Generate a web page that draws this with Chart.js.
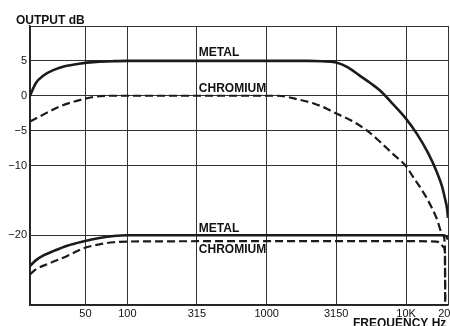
<!DOCTYPE html>
<html>
<head>
<meta charset="utf-8">
<script src="https://cdn.jsdelivr.net/npm/chart.js@4"></script>
<style>
  html, body { margin: 0; padding: 0; background: #fff; }
  #wrap { width: 450px; height: 326px; }
</style>
</head>
<body>
<div id="wrap"><canvas id="myChart"></canvas></div>
<script>
const ctx = document.getElementById('myChart');

// axis ticks
const freqTicks = [20, 50, 100, 315, 1000, 3150, 10000, 20000];
const freqTickLabels = ['', '50', '100', '315', '1000', '3150', '10K', '20K'];
const dbTicks = [-30, -20, -10, -5, 0, 5, 10];
const dbTickLabels = ['', '\u221220', '\u221210', '\u22125', '0', '5', ''];

// metal tape, high level
const metalHiFreq = [20, 22, 25, 30, 35, 45, 60, 80, 100, 1000, 2000, 2500, 3100, 3800, 4670, 5600, 6500, 8060, 9820, 12000, 14380, 16680, 18120, 19000, 19700, 20000];
const metalHiDb = [0, 1.8, 2.9, 3.75, 4.2, 4.6, 4.85, 4.96, 5, 5, 5, 4.95, 4.8, 4.1, 2.85, 1.75, 0.75, -1.2, -3.1, -5.5, -8.2, -11.0, -13.0, -14.7, -16.2, -17.5];

// chromium tape, high level
const chromHiFreq = [20, 25.5, 33.5, 44, 58, 76, 100, 1000, 1200, 1700, 2200, 2700, 3000, 4000, 5250, 6500, 8000, 10000, 11200, 12500, 14100, 16600, 18400, 19000, 19100];
const chromHiDb = [-3.7, -2.6, -1.45, -0.7, -0.15, 0, 0, 0, 0, -0.55, -1.15, -1.85, -2.35, -3.5, -5.0, -6.6, -8.3, -10.1, -11.6, -13.0, -14.7, -17.6, -20.0, -21.4, -31];

// metal tape, low level
const metalLoFreq = [20, 22, 25, 30, 37, 48, 63, 80, 100, 1000, 10000, 18500, 19500, 20000];
const metalLoDb = [-24.4, -23.6, -22.9, -22.2, -21.5, -20.9, -20.4, -20.1, -20, -20, -20, -20, -20.2, -20.6];

// chromium tape, low level
const chromLoFreq = [20, 22, 27.8, 36.7, 48, 63, 80, 100, 1000, 10000, 16600, 17800, 18600, 19000, 19100];
const chromLoDb = [-25.6, -24.9, -24.0, -23.0, -21.9, -21.3, -21.0, -20.9, -20.85, -20.85, -20.9, -21.2, -21.7, -22.4, -31];

// curve names written on the chart
const curveLabels = ['METAL', 'CHROMIUM', 'METAL', 'CHROMIUM'];
const curveLabelFreq = [315, 315, 315, 315];
const curveLabelDb = [5.7, 0.55, -19.5, -22.6];

function toPoints(freqs, dbs){
    return freqs.map((f, i) => ({x: f, y: dbs[i]}));
}

const lineColor = '#1b1b1b';
const fontFamily = '"Liberation Sans", Arial, Helvetica, sans-serif';

const textPlugin = {
    id: 'textLabels',
    afterDraw(chart){
        const c = chart.ctx;
        const xs = chart.scales.x;
        const ys = chart.scales.y;
        const area = chart.chartArea;
        c.save();
        c.fillStyle = '#111';
        c.font = 'bold 12px ' + fontFamily;
        c.textAlign = 'left';
        c.textBaseline = 'alphabetic';
        for(let i = 0; i < curveLabels.length; i++){
            c.fillText(curveLabels[i], xs.getPixelForValue(curveLabelFreq[i]) + 2, ys.getPixelForValue(curveLabelDb[i]));
        }
        c.fillText('OUTPUT dB', area.left - 14, area.top - 2);
        c.fillText('FREQUENCY Hz', area.right - 95, area.bottom + 22);
        c.restore();
    }
};

var dataChart = new Chart(ctx, {
    type: 'line',
    data: {
        datasets: [
            {data: toPoints(metalHiFreq, metalHiDb), borderColor: lineColor, borderWidth: 2.6},
            {data: toPoints(chromHiFreq, chromHiDb), borderColor: lineColor, borderWidth: 2.2, borderDash: [8, 4]},
            {data: toPoints(metalLoFreq, metalLoDb), borderColor: lineColor, borderWidth: 2.6},
            {data: toPoints(chromLoFreq, chromLoDb), borderColor: lineColor, borderWidth: 2.2, borderDash: [8, 4]}
        ]
    },
    options: {
        responsive: true,
        maintainAspectRatio: false,
        devicePixelRatio: 1,
        animation: false,
        layout: {
            padding: {top: 26, right: 2, left: 0, bottom: 0}
        },
        elements: {
            point: {radius: 0},
            line: {cubicInterpolationMode: 'monotone', fill: false}
        },
        plugins: {
            legend: {display: false},
            tooltip: {enabled: false}
        },
        scales: {
            x: {
                type: 'logarithmic',
                min: 20,
                max: 20000,
                afterBuildTicks: scale => {
                    scale.ticks = freqTicks.map(v => ({value: v}));
                },
                afterFit: scale => {
                    scale.height = 21;
                    scale.paddingLeft = 0;
                    scale.paddingRight = 0;
                },
                ticks: {
                    autoSkip: false,
                    maxRotation: 0,
                    padding: 2,
                    color: '#111',
                    font: {family: fontFamily, size: 11},
                    callback: (value, index) => freqTickLabels[index]
                },
                border: {display: true, color: '#222', width: 1.5},
                grid: {
                    display: true,
                    color: '#333',
                    lineWidth: 1,
                    drawTicks: false
                }
            },
            y: {
                type: 'linear',
                min: -30,
                max: 10,
                afterBuildTicks: scale => {
                    scale.ticks = dbTicks.map(v => ({value: v}));
                },
                afterFit: scale => {
                    scale.width = 30;
                    scale.paddingTop = 0;
                    scale.paddingBottom = 0;
                },
                ticks: {
                    autoSkip: false,
                    padding: 3,
                    color: '#111',
                    font: {family: fontFamily, size: 11},
                    callback: (value, index) => dbTickLabels[index]
                },
                border: {display: true, color: '#222', width: 1.5},
                grid: {
                    display: true,
                    color: '#333',
                    lineWidth: 1,
                    drawTicks: false
                }
            }
        }
    },
    plugins: [textPlugin]
});
</script>
</body>
</html>
